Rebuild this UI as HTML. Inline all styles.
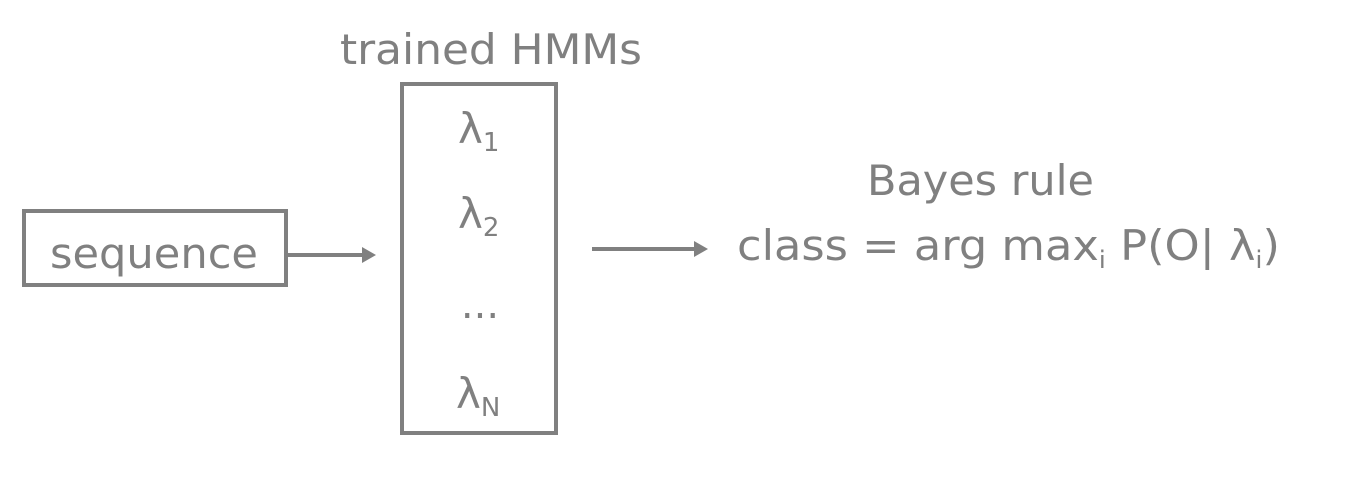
<!DOCTYPE html>
<html><head><style>
body{margin:0;background:#fff;}
svg text{font-family:"DejaVu Sans","Liberation Sans",sans-serif;fill:#808080;}
</style></head><body>
<svg width="1345" height="479" xmlns="http://www.w3.org/2000/svg">
<rect width="1345" height="479" fill="#fff"/>
<g fill="none" stroke="#808080" stroke-width="4">
<rect x="24" y="211" width="262" height="74"/>
<rect x="402" y="84" width="154" height="349"/>
<line x1="286" y1="255" x2="364" y2="255"/>
<line x1="592" y1="249" x2="696" y2="249"/>
</g>
<polygon points="362,247 376,255 362,263" fill="#808080"/>
<polygon points="694,241 708,249 694,257" fill="#808080"/>
<text x="340" y="64" font-size="42" textLength="302" lengthAdjust="spacingAndGlyphs">trained HMMs</text>
<text x="50" y="268" font-size="42" textLength="208" lengthAdjust="spacingAndGlyphs">sequence</text>
<text x="458" y="143" font-size="42">λ<tspan font-size="26" dy="8">1</tspan></text>
<text x="458" y="228" font-size="42">λ<tspan font-size="26" dy="8">2</tspan></text>
<text x="480" y="318" font-size="40" text-anchor="middle">...</text>
<text x="456" y="408" font-size="42">λ<tspan font-size="26" dy="8">N</tspan></text>
<text x="867" y="195" font-size="42" textLength="227" lengthAdjust="spacingAndGlyphs">Bayes rule</text>
<text x="737" y="260" font-size="42" textLength="543" lengthAdjust="spacingAndGlyphs">class = arg max<tspan font-size="24" dy="8">i</tspan><tspan dy="-8"> P(O| λ</tspan><tspan font-size="24" dy="8">i</tspan><tspan dy="-8">)</tspan></text>
</svg>
</body></html>
